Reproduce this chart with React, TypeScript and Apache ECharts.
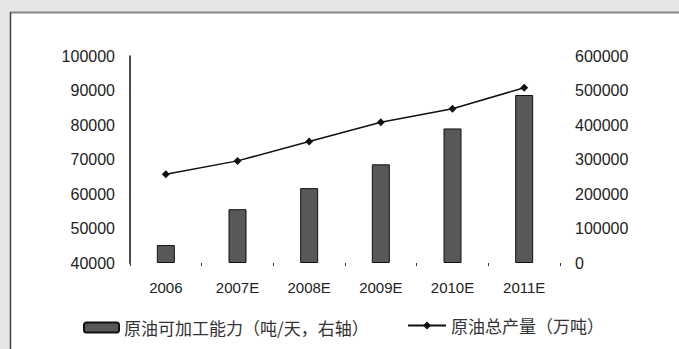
import React, { useEffect, useRef } from "react";
import * as echarts from "echarts";

const categories = ["2006", "2007E", "2008E", "2009E", "2010E", "2011E"];
const capacityValues = [52000, 156000, 217000, 286000, 390000, 487000];
const consumptionValues = [65700, 69600, 75200, 80800, 84700, 90800];
const barName = "原油可加工能力（吨/天，右轴）";
const lineName = "原油总产量（万吨）";

export default function App() {
  const ref = useRef<HTMLDivElement>(null);
  useEffect(() => {
    if (!ref.current) return;
    const chart = echarts.init(ref.current, undefined, { renderer: "svg" });
    const axisFont = {
      fontFamily: "Liberation Sans, Arial, sans-serif",
      fontSize: 16,
      color: "#222",
      formatter: (v: number) => String(v),
    };
    chart.setOption({
      animation: false,
      backgroundColor: "#e5e6e8",
      graphic: [
        { type: "rect", shape: { x: 10, y: 12, width: 669, height: 337 }, style: { fill: "#ffffff" }, z: -10 },
        { type: "line", shape: { x1: 10, y1: 12.5, x2: 679, y2: 12.5 }, style: { stroke: "#8a8a8a", lineWidth: 2 }, z: -9 },
        { type: "line", shape: { x1: 10.5, y1: 12, x2: 10.5, y2: 349 }, style: { stroke: "#444", lineWidth: 1.5 }, z: -9 },
      ],
      grid: { left: 130, right: 119, top: 56, bottom: 86 },
      legend: [
        {
          data: [{ name: barName, icon: "roundRect" }],
          left: 78,
          top: 314,
          itemWidth: 35,
          itemHeight: 10,
          itemGap: 9,
          textStyle: { fontFamily: "Noto Sans CJK SC", fontSize: 17, color: "#333" },
        },
        {
          data: [{ name: lineName }],
          left: 402,
          top: 312,
          itemWidth: 38,
          itemHeight: 10,
          textStyle: { fontFamily: "Noto Sans CJK SC", fontSize: 17, color: "#333" },
        },
      ],
      xAxis: {
        type: "category",
        data: categories,
        boundaryGap: true,
        axisLine: { show: false },
        axisTick: { show: true, alignWithLabel: false, length: 3, lineStyle: { color: "#333" } },
        axisLabel: { fontFamily: "Liberation Sans, Arial, sans-serif", fontSize: 15, color: "#222", margin: 17 },
      },
      yAxis: [
        {
          type: "value",
          min: 40000,
          max: 100000,
          interval: 10000,
          position: "left",
          splitLine: { show: false },
          axisLine: { show: true, lineStyle: { color: "#111", width: 1.5 } },
          axisTick: { show: false },
          axisLabel: { ...axisFont, margin: 15 },
        },
        {
          type: "value",
          min: 0,
          max: 600000,
          interval: 100000,
          position: "right",
          splitLine: { show: false },
          axisLine: { show: false },
          axisTick: { show: false },
          axisLabel: { ...axisFont, margin: 15 },
        },
      ],
      series: [
        {
          name: barName,
          type: "bar",
          yAxisIndex: 1,
          data: capacityValues,
          barWidth: 18,
          itemStyle: { color: "#585858", borderColor: "#111", borderWidth: 1 },
        },
        {
          name: lineName,
          type: "line",
          yAxisIndex: 0,
          data: consumptionValues,
          symbol: "diamond",
          symbolSize: 8,
          lineStyle: { color: "#111", width: 1.5 },
          itemStyle: { color: "#111" },
        },
      ],
    });
    return () => chart.dispose();
  }, []);
  return (
    <div style={{ position: "fixed", left: 0, top: 0, width: 679, height: 349 }}>
      <div ref={ref} style={{ width: 679, height: 349 }} />
    </div>
  );
}
